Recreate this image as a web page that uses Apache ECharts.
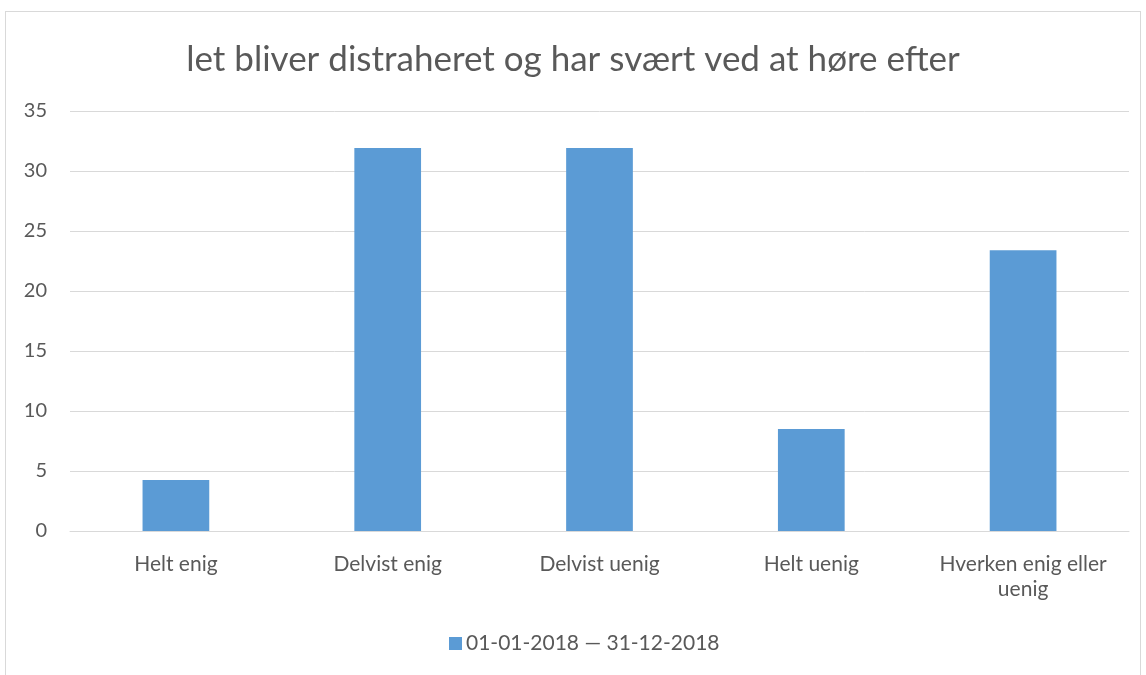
<!DOCTYPE html>
<html>
<head>
<meta charset="utf-8">
<script src="https://cdn.jsdelivr.net/npm/echarts@6/dist/echarts.min.js"></script>
<style>
  html, body { margin: 0; padding: 0; background: #fff; }
  #frame { position: absolute; left: 5px; top: 11px; width: 1136px; height: 670px; border: 1px solid #d9d9d9; border-bottom: none; box-sizing: border-box; }
  #chart { position: absolute; left: 0; top: 0; width: 1146px; height: 675px; }
</style>
</head>
<body>
<div id="frame"></div>
<div id="chart"></div>
<script>
// data
var titleText = 'let bliver distraheret og har svært ved at høre efter'
var categories = ['Helt enig', 'Delvist enig', 'Delvist uenig', 'Helt uenig', 'Hverken enig eller\nuenig']
var seriesName = '01-01-2018 — 31-12-2018'
var values = [4.26, 31.91, 31.91, 8.51, 23.4]
var yMin = 0
var yMax = 35
var yStep = 5

var chart = echarts.init(document.getElementById('chart'))
var textColor = '#595959'
var font = 'Lato'

var option = {
  animation: false,
  title: {
    text: titleText,
    left: 'center',
    top: 37,
    textStyle: { color: textColor, fontSize: 35, fontWeight: 'normal', fontFamily: font }
  },
  legend: {
    bottom: 16,
    left: 444,
    itemWidth: 13,
    itemHeight: 13,
    itemGap: 6,
    icon: 'rect',
    textStyle: { color: textColor, fontSize: 21, fontFamily: font, padding: [0, 0, 0, -1] },
    data: [seriesName]
  },
  grid: {
    left: 70,
    right: 17,
    top: 111,
    bottom: 144,
    containLabel: false
  },
  xAxis: {
    type: 'category',
    data: categories,
    axisLine: { lineStyle: { color: '#d9d9d9', width: 1 } },
    axisTick: { show: false },
    axisLabel: { color: textColor, fontSize: 21, fontFamily: font, margin: 21, lineHeight: 25, interval: 0 }
  },
  yAxis: {
    type: 'value',
    min: yMin,
    max: yMax,
    interval: yStep,
    axisLine: { show: false },
    axisTick: { show: false },
    splitLine: { lineStyle: { color: '#d9d9d9', width: 1 } },
    axisLabel: { color: textColor, fontSize: 20, fontFamily: font, margin: 23 }
  },
  series: [{
    name: seriesName,
    type: 'bar',
    barWidth: '31.5%',
    itemStyle: { color: '#5b9bd5' },
    data: values
  }]
}
chart.setOption(option)
</script>
</body>
</html>
